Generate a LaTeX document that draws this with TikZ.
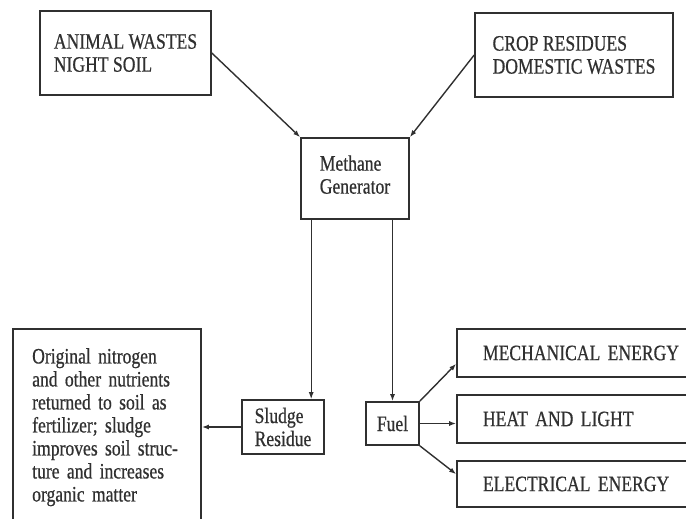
\documentclass[tikz,border=0pt]{standalone}
\usepackage{fontspec}
\setmainfont{Liberation Serif}[FakeStretch=0.8,FakeBold=0.6]
\usetikzlibrary{arrows.meta,calc}
\definecolor{ink}{HTML}{303030}
\begin{document}
\begin{tikzpicture}[x=1pt,y=-1pt,
  every node/.style={font=\fontsize{22}{23}\selectfont, text=ink},
  box/.style={draw=ink, line width=1.6pt, inner xsep=0pt, inner ysep=0pt, align=left},
  conn/.style={draw=ink, line width=1.4pt},
  arr/.style={conn, -{Latex[length=7pt,width=5pt]}}]
\useasboundingbox (0,0) rectangle (686,519);
\clip (0,0) rectangle (686,519);
% source boxes
\node[box, minimum width=171pt, minimum height=84pt] (animal) at (125.5,53) {ANIMAL WASTES\\NIGHT SOIL};
\node[box, minimum width=198pt, minimum height=84pt] (crop) at (574,55) {CROP RESIDUES\\DOMESTIC WASTES};
% generator
\node[box, minimum width=108pt, minimum height=81pt, text depth=8pt] (methane) at (355,178.5) {Methane\\Generator};
% products
\node[box, minimum width=82pt, minimum height=54pt] (sludge) at (283,427) {Sludge\\Residue};
\node[box, align=center, minimum width=53pt, minimum height=43pt] (fuel) at (392.5,423.5) {Fuel};
% soil box (open at the bottom)
\node[box, minimum width=188pt, minimum height=240pt, anchor=north] (soil) at (107,328) {};
\node[anchor=north west, inner sep=0pt, text width=165pt, align=left] (soiltext) at (32,348) {Original nitrogen\\and other nutrients\\returned to soil as\\fertilizer; sludge\\improves soil struc-\\ture and increases\\organic matter};
% energy boxes (open at the right)
\node[box, inner xsep=26pt, text width=211pt, minimum height=48pt] (mech) at (588.5,353) {MECHANICAL ENERGY};
\node[box, inner xsep=26pt, text width=211pt, minimum height=48pt] (heat) at (588.5,419) {HEAT AND LIGHT};
\node[box, inner xsep=26pt, text width=211pt, minimum height=46pt] (elec) at (588.5,484) {ELECTRICAL ENERGY};
% connectors
\draw[arr] (animal.east) -- (methane.north west);
\draw[arr] (crop.west) -- (methane.north east);
\coordinate (m1) at ($(methane.south west)+(11,0)$);
\draw[arr] (m1) -- (m1 |- sludge.north);
\draw[arr] (fuel.north |- methane.south) -- (fuel.north);
\draw[arr] (sludge.west) -- (soil.east |- sludge.west);
\draw[arr] (fuel.north east) -- ($(mech.south west)+(0,-14)$);
\draw[arr] (fuel.east) -- (heat.west |- fuel.east);
\draw[arr] (fuel.south east) -- ($(elec.north west)+(0,14)$);
\end{tikzpicture}
\end{document}
